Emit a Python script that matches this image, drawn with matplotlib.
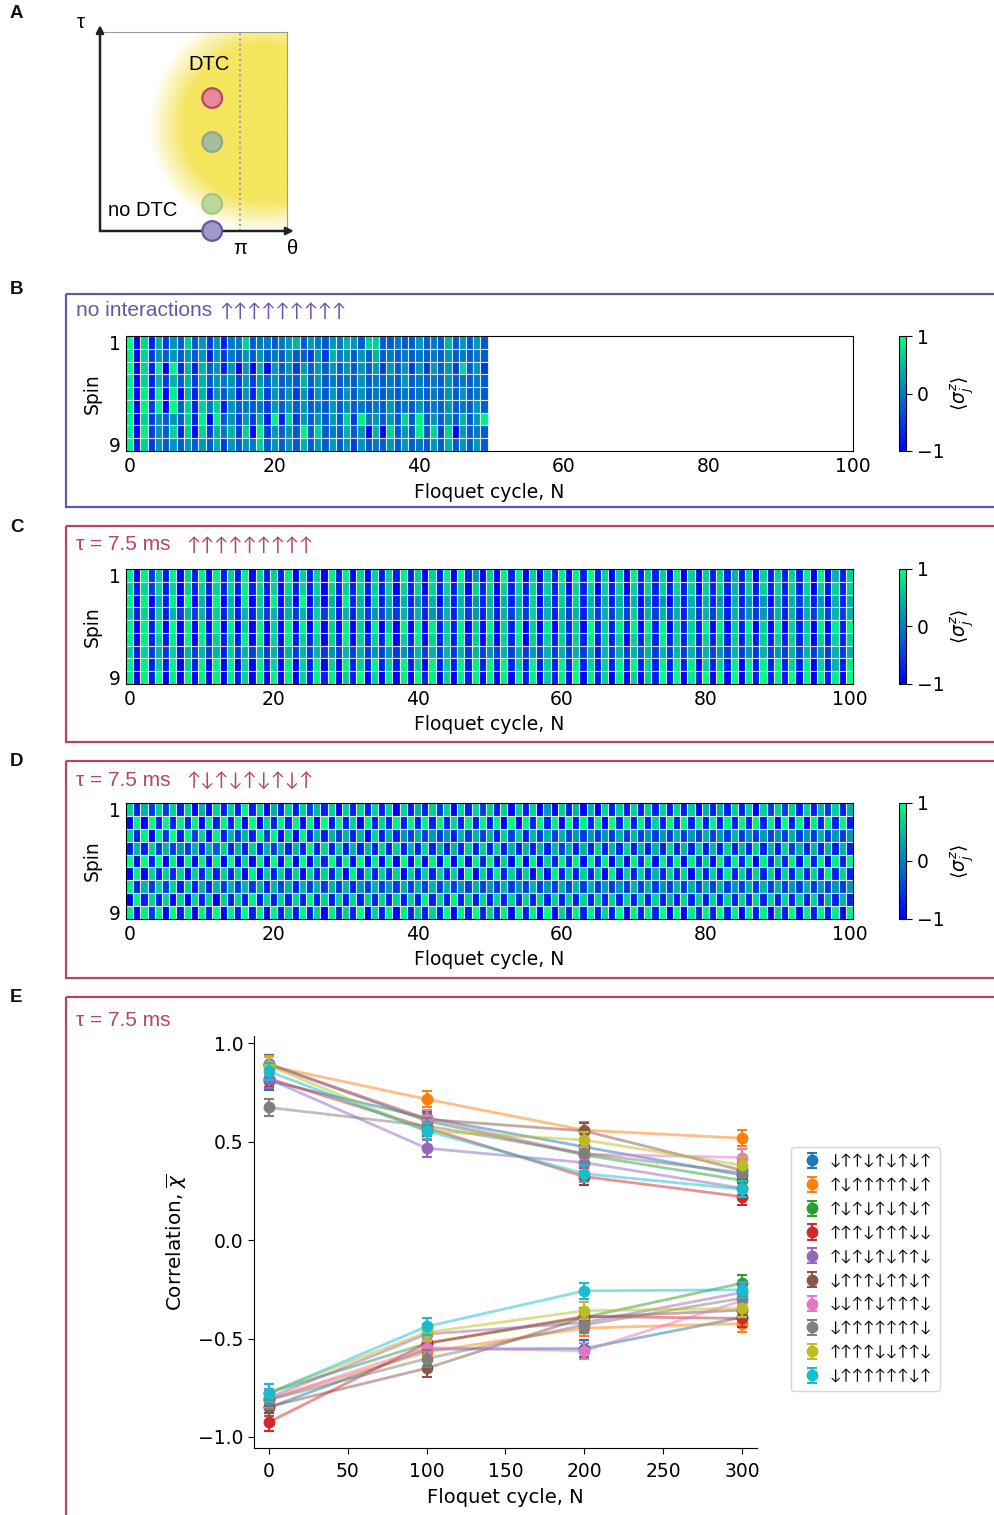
import numpy as np
import matplotlib
matplotlib.use("Agg")
import matplotlib.pyplot as plt
from matplotlib.patches import Rectangle

W, H = 995, 1515
HELV = "Liberation Sans"
ARROWS = "Lato"
PURPLE = "#6a55a5"
RED = "#b8455f"

# heatmaps: one digit per cell, 0 -> -1 ... 9 -> +1
rows_b = [
    "9071625373 5251447344 3456354354 6537733433 5343635353",
    "8072535353 5152435353 4353325264 5353634343 4343534343",
    "9071808161 6351505060 5352535353 5353525352 5253527352",
    "8071626362 6354525253 5343635343 4353434353 4343534343",
    "8081808061 6153515162 5352525353 5353434343 4343535343",
    "8082809371 7471534342 5353534353 5343435343 5343534353",
    "8072535371 8083525261 8172535353 7284535373 8353536358",
    "8082537170 7264627082 5353837343 6350607353 8372705343",
    "8172535353 5362535473 5353635353 5253435353 4353635353",
]
rows_c = [
    "8082718071 8081718071 7180717081 8070717181 7071809150 7081807071 8081917070 8171708070 7171617071 7171808061 7",
    "7172717071 7171718171 7071717071 7171717071 7071717071 7071717171 7071707170 7171717170 7171617171 7171707171 7",
    "8080618090 6080608070 8060906060 8160716161 5160616151 6061617061 7171616161 6051506161 6150615150 6162615061 6",
    "7171716262 6171616162 6162617261 6162525262 6152616251 6162627161 6261626262 7162626162 6261625252 6161626262 6",
    "8081809080 8080807080 7080808070 8070807080 8081718070 8071807080 7170917181 8081807171 8080718070 8071708081 8",
    "8081718080 8171718080 7081717071 8071718071 8071718170 7071807171 7171817170 7171817171 7171717171 7171707171 7",
    "7172627162 6261726262 6162626252 6262525252 6262626262 5262625262 6262616262 6362626262 6252625262 5262625262 6",
    "8081718071 8080807081 7080718070 8171817181 7081718181 8181718171 8181717181 8171818180 7171808181 8171807161 8",
    "8081908080 8080817080 8080718180 7190708080 9180708180 8080818071 8090817080 7071919081 9090908191 8190808180 9",
]
rows_d = [
    "7162727170 6071718170 6171726170 7171717071 6172707172 7170717050 7160607171 7171717170 6161717072 7271716271 6",
    "0809181818 0818180907 1818080918 1708171818 1818171818 1809081818 0918180918 1817181818 1818181818 0918081818 1",
    "7180829182 7081626182 8070816162 6160716152 6252516262 6172716262 6252525262 6252526252 6252625252 5262526252 5",
    "1617262526 1637161716 2616181717 1616171716 1716161717 1716161616 2616171617 1616171617 1617161716 1726161616 1",
    "9091908080 8080907080 9080907191 8090808090 8080908081 8070908071 8180818070 8180818081 7081818081 7180818081 8",
    "0807171707 1717170807 1717071717 0817171707 1717170807 1817170708 1717170807 1716171707 1718171717 0717171817 1",
    "8162727171 6162626261 6261626262 6152625262 6262625262 5262526252 6262625252 6262526262 6262526262 6252625252 5",
    "0817170707 1707171817 1717181717 1717171717 1817181717 1717171717 1717171717 1717161717 1717171717 1717171616 1",
    "8082809180 8190819180 8171817081 7190718081 7171908191 7180918090 7181817190 8181909081 8191808180 7190818180 8",
]

# panel E
cycles = [0, 100, 200, 300]
labels = ["↓↑↑↓↑↓↑↓↑", "↑↓↑↑↑↑↑↓↑", "↑↓↑↓↑↓↑↓↑", "↑↑↑↓↑↑↑↓↓", "↑↓↑↓↑↓↑↑↓",
          "↓↑↑↑↓↑↑↓↑", "↓↓↑↑↓↑↑↑↓", "↓↑↑↑↑↑↑↑↓", "↑↑↑↑↓↓↑↑↓", "↓↑↑↑↑↑↑↓↑"]
colors = ["#1f77b4", "#ff7f0e", "#2ca02c", "#d62728", "#9467bd",
          "#8c564b", "#e377c2", "#7f7f7f", "#bcbd22", "#17becf"]
top_blue = [0.808, 0.62, 0.473, 0.33]
top_orange = [0.885, 0.715, 0.558, 0.517]
top_green = [0.893, 0.605, 0.432, 0.303]
top_red = [0.82, 0.57, 0.322, 0.22]
top_purple = [0.817, 0.466, 0.393, 0.263]
top_brown = [0.893, 0.613, 0.554, 0.354]
top_pink = [0.888, 0.617, 0.436, 0.419]
top_gray = [0.673, 0.58, 0.44, 0.342]
top_olive = [0.885, 0.554, 0.508, 0.38]
top_cyan = [0.856, 0.554, 0.337, 0.258]
bot_blue = [-0.85, -0.554, -0.551, -0.393]
bot_orange = [-0.808, -0.568, -0.447, -0.424]
bot_green = [-0.775, -0.525, -0.393, -0.219]
bot_red = [-0.924, -0.524, -0.388, -0.398]
bot_purple = [-0.80, -0.478, -0.419, -0.266]
bot_brown = [-0.846, -0.651, -0.393, -0.356]
bot_pink = [-0.808, -0.546, -0.563, -0.308]
bot_gray = [-0.812, -0.602, -0.431, -0.295]
bot_olive = [-0.775, -0.469, -0.359, -0.347]
bot_cyan = [-0.778, -0.439, -0.258, -0.253]
err_y = [0.045, 0.042, 0.042, 0.042]

# panel A
theta_pts = [0.6, 0.6, 0.6, 0.6]
tau_pts = [0.668, 0.447, 0.136, 0.0]
pt_fill = ["#e58a9b", "#a8bd9a", "#bcd99b", "#9f9ac9"]
pt_edge = [RED, "#8fa78f", "#a6c48e", PURPLE]

fig = plt.figure(figsize=(W / 100, H / 100), dpi=100)


def px_axes(x0, y0, x1, y1):
    return fig.add_axes([x0 / W, 1 - y1 / H, (x1 - x0) / W, (y1 - y0) / H])


def to_vals(rows):
    digits = np.array([[int(c) for c in r.replace(" ", "")] for r in rows], dtype=float)
    return np.minimum(-1 + 2 * digits / 8.5, 1)


# ── overlay: boxes, panel letters, titles, sketch labels ─────────────────────
bg = fig.add_axes([0, 0, 1, 1], zorder=10)
bg.set_xlim(0, W); bg.set_ylim(H, 0); bg.axis("off")
for y0, y1, c in [(294, 507, PURPLE), (526, 742, RED), (761, 978, RED), (997, H + 20, RED)]:
    bg.add_patch(Rectangle((66, y0), W, y1 - y0, fill=False, ec=c, lw=1.6))
for s, y in zip("ABCDE", [13, 290, 527, 761, 998]):
    bg.text(10, y, s, family=HELV, weight="bold", size=13.5, va="center", color="#111111")
bg.text(76, 311, "no interactions", family=HELV, size=15, color=PURPLE, va="center")
bg.text(219, 311, "↑" * 9, family=ARROWS, size=13.6, color=PURPLE, va="center")
bg.text(76, 545, "τ = 7.5 ms", family=HELV, size=15, color=RED, va="center")
bg.text(186, 545, "↑" * 9, family=ARROWS, size=13.6, color=RED, va="center")
bg.text(76, 780, "τ = 7.5 ms", family=HELV, size=15, color=RED, va="center")
bg.text(186, 780, "↑↓↑↓↑↓↑↓↑", family=ARROWS, size=13.6, color=RED, va="center")
bg.text(76, 1021, "τ = 7.5 ms", family=HELV, size=15, color=RED, va="center")
bg.text(209, 65, "DTC", family=HELV, size=14.5, ha="center", va="center")
bg.text(143, 211, "no DTC", family=HELV, size=14.5, ha="center", va="center")
bg.text(81, 22, "τ", family=HELV, size=14.5, ha="center", va="center")
bg.text(240, 248, "π", family=HELV, size=14.5, ha="center", va="center")
bg.text(293, 248, "θ", family=HELV, size=14.5, ha="center", va="center")

# ── A: phase diagram sketch ──────────────────────────────────────────────────
ax = px_axes(100, 32, 287, 231)
gx, gy = np.meshgrid(np.linspace(0, 1, 300), np.linspace(1, 0, 300))
r = np.sqrt(((gx - 0.88) / 0.62) ** 2 + ((gy - 0.52) / np.where(gy > 0.52, 0.6, 0.53)) ** 2)
blob = np.zeros(gx.shape + (4,))
blob[..., :3] = matplotlib.colors.to_rgb("#f5e55f")
blob[..., 3] = np.clip((1 - r) / 0.3, 0, 1)
ax.imshow(blob, extent=(0, 1, 0, 1), aspect="auto", zorder=0)
ax.set_xlim(0, 1); ax.set_ylim(0, 1)
ax.set_xticks([]); ax.set_yticks([])
for side in ["left", "bottom"]:
    ax.spines[side].set_visible(False)
for side in ["top", "right"]:
    ax.spines[side].set_color("#999999")
ax.axvline(0.75, color="#9a9aa8", ls=":", lw=1.4)
ax.scatter(theta_pts, tau_pts, s=200, c=pt_fill, edgecolors=pt_edge, linewidths=1.6, zorder=4, clip_on=False)
arrow = dict(arrowstyle="-|>", color="#222222", lw=1.8, mutation_scale=11, shrinkA=0, shrinkB=0)
ax.annotate("", xy=(0, 1.035), xytext=(0, 0), xycoords="axes fraction", arrowprops=arrow, zorder=3)
ax.annotate("", xy=(1.037, 0), xytext=(0, 0), xycoords="axes fraction", arrowprops=arrow, zorder=3)


# ── B, C, D: heatmaps ────────────────────────────────────────────────────────
def heatmap(rows, y0, y1, xmax):
    vals = to_vals(rows)
    ax = px_axes(126, y0, 853, y1)
    xe = np.arange(vals.shape[1] + 1) - 0.5
    ye = np.arange(vals.shape[0] + 1) + 0.5
    m = ax.pcolormesh(xe, ye, vals, cmap="winter", vmin=-1, vmax=1, edgecolors=(1, 1, 1, 0.75),
                      linewidth=0.8, antialiased=True)
    ax.set_xlim(-0.5, xmax); ax.set_ylim(9.5, 0.5)
    ax.set_xticks([0, 20, 40, 60, 80, 100]); ax.set_yticks([1, 9])
    ax.tick_params(length=0, labelsize=13.5, pad=4)
    ax.set_xlabel("Floquet cycle, N", fontsize=13.5, labelpad=5)
    ax.set_ylabel("Spin", fontsize=13.5, labelpad=5)
    cax = px_axes(899, y0, 906, y1)
    cb = fig.colorbar(m, cax=cax)
    cb.set_ticks([-1, 0, 1])
    cb.ax.tick_params(length=4, labelsize=13.5, pad=4)
    cb.set_label(r"$\langle\sigma_j^z\rangle$", fontsize=13.5, labelpad=3)
    cb.outline.set_linewidth(0.8)


heatmap(rows_b, 336, 451, 100)
heatmap(rows_c, 569, 684, 100.5)
heatmap(rows_d, 803, 919, 100.5)

# ── E: correlations ──────────────────────────────────────────────────────────
ax = px_axes(254, 1036, 757, 1448)
tops = [top_blue, top_orange, top_green, top_red, top_purple, top_brown, top_pink, top_gray, top_olive, top_cyan]
bots = [bot_blue, bot_orange, bot_green, bot_red, bot_purple, bot_brown, bot_pink, bot_gray, bot_olive, bot_cyan]
handles = []
for i in range(10):
    for series in (bots[i], tops[i]):
        ax.plot(cycles, series, color=colors[i], lw=2, alpha=0.5, zorder=2 + i * 0.1)
        h = ax.errorbar(cycles, series, yerr=err_y, fmt="o", color=colors[i], ms=7.5, capsize=3.6,
                        capthick=1.5, elinewidth=1.5, zorder=2 + i * 0.1)
    handles.append(h)
ax.set_xlim(-9.5, 309.5); ax.set_ylim(-1.056, 1.036)
ax.set_xticks([0, 50, 100, 150, 200, 250, 300])
ax.set_yticks([-1, -0.5, 0, 0.5, 1])
ax.set_yticklabels(["−1.0", "−0.5", "0.0", "0.5", "1.0"])
ax.tick_params(labelsize=13.5, length=4)
ax.tick_params(axis="x", pad=6)
ax.spines["top"].set_visible(False); ax.spines["right"].set_visible(False)
ax.set_xlabel("Floquet cycle, N", fontsize=14, labelpad=5)
ax.set_ylabel(r"Correlation, $\overline{\chi}$", fontsize=14.4, labelpad=6.5)
ax.legend(handles, labels, loc="upper left", bbox_to_anchor=(791 / W, 1 - 1147 / H),
          bbox_transform=fig.transFigure, borderaxespad=0, prop={"family": ARROWS, "size": 10.9},
          labelspacing=0.64, handlelength=1.8, handletextpad=0.25, borderpad=0.5, frameon=True)

fig.savefig("out.png", dpi=100)
